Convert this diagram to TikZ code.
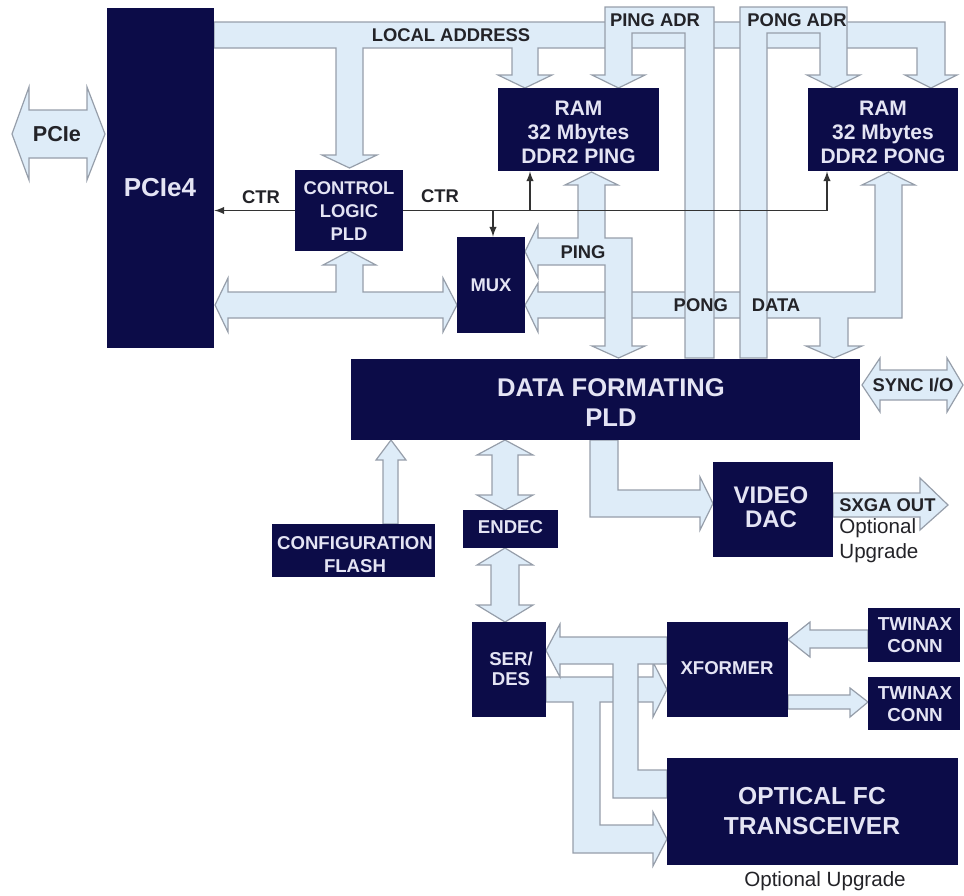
\documentclass[tikz,border=0pt]{standalone}
\usepackage{fontspec}
\setmainfont{Liberation Sans}
\usetikzlibrary{fit}
\definecolor{navy}{RGB}{12,12,72}
\definecolor{busblue}{RGB}{222,236,248}
\definecolor{busline}{RGB}{150,158,170}
\definecolor{boxtext}{RGB}{228,228,244}
\definecolor{lbltext}{RGB}{35,35,40}
\newcommand{\bfs}[2]{\fontsize{#1}{#2}\selectfont\bfseries}

\begin{document}
\begin{tikzpicture}[x=0.5pt, y=-0.5pt,
    blk/.style={fill=navy, inner sep=0pt},
    txt/.style={text=boxtext, inner sep=0pt, align=center},
    bus/.style={fill=busblue, draw=busline, line width=0.6pt},
    lbl/.style={text=lbltext, inner sep=0pt, font=\bfs{9.2}{11}},
    ctr/.style={draw=black!80, line width=0.7pt, -latex}]
  \useasboundingbox (0,0) rectangle (964,895);
  % buses
  \draw[bus] (214,22) -- (945,22) -- (945,75) -- (957,75) -- (931,88) -- (905,75) -- (917,75) -- (917,48)
    -- (538,48) -- (538,75) -- (552,75) -- (525,88) -- (498,75) -- (512,75) -- (512,48)
    -- (363,48) -- (363,155) -- (377,155) -- (349.5,168) -- (322,155) -- (336,155) -- (336,48) -- (214,48) -- cycle;
  \draw[bus] (215,305) -- (228,278) -- (228,292) -- (336,292) -- (336,265) -- (323,265) -- (349.5,251)
    -- (376,265) -- (363,265) -- (363,292) -- (443,292) -- (443,278) -- (457,305) -- (443,332)
    -- (443,318) -- (228,318) -- (228,332) -- cycle;
  \draw[bus] (525,305) -- (538,283) -- (538,292) -- (875,292) -- (875,185) -- (862,185) -- (888.5,172)
    -- (915,185) -- (902,185) -- (902,318) -- (848,318) -- (848,346) -- (862,346) -- (834,358)
    -- (806,346) -- (820,346) -- (820,318) -- (538,318) -- (538,332) -- cycle;
  \draw[bus] (525,251.5) -- (538,225) -- (538,238) -- (578,238) -- (578,185) -- (565,185) -- (591.5,172)
    -- (618,185) -- (605,185) -- (605,238) -- (632,238) -- (632,346) -- (645,346) -- (618.5,358)
    -- (592,346) -- (605,346) -- (605,265) -- (538,265) -- (538,278) -- cycle;
  \draw[bus] (685,358) -- (685,33) -- (632,33) -- (632,75) -- (645,75) -- (618.5,88) -- (592,75)
    -- (605,75) -- (605,7) -- (714,7) -- (714,358) -- cycle;
  \draw[bus] (740,358) -- (740,7) -- (847,7) -- (847,75) -- (860,75) -- (833.5,88) -- (807,75)
    -- (820,75) -- (820,33) -- (767,33) -- (767,358) -- cycle;
  \draw[bus] (12,134) -- (29,87) -- (29,110) -- (87,110) -- (87,87) -- (105,134) -- (87,180)
    -- (87,158) -- (29,158) -- (29,180) -- cycle;
  \draw[bus] (862,385) -- (880,358) -- (880,370) -- (947,370) -- (947,358) -- (963,385) -- (947,412)
    -- (947,400) -- (880,400) -- (880,412) -- cycle;
  \draw[bus] (590,440) -- (618,440) -- (618,490) -- (700,490) -- (700,477) -- (713,503.5) -- (700,530)
    -- (700,517) -- (590,517) -- cycle;
  \draw[bus] (833,493) -- (920,493) -- (920,478) -- (948,505) -- (920,530) -- (920,517) -- (833,517) -- cycle;
  \draw[bus] (505,440) -- (533,455) -- (518,455) -- (518,495) -- (533,495) -- (505,510) -- (477,495)
    -- (492,495) -- (492,455) -- (477,455) -- cycle;
  \draw[bus] (505,548) -- (533,565) -- (519,565) -- (519,605) -- (533,605) -- (505,622) -- (477,605)
    -- (491,605) -- (491,565) -- (477,565) -- cycle;
  \draw[bus] (391,440) -- (406,460) -- (398,460) -- (398,524) -- (383,524) -- (383,460) -- (376,460) -- cycle;
  \draw[bus] (546,677) -- (653,677) -- (653,662) -- (667,689.5) -- (653,717) -- (653,702) -- (600,702)
    -- (600,825) -- (653,825) -- (653,812) -- (667,839) -- (653,866) -- (653,853) -- (573,853)
    -- (573,702) -- (546,702) -- cycle;
  \draw[bus] (546,650.5) -- (560,624) -- (560,637) -- (667,637) -- (667,664) -- (638,664) -- (638,770)
    -- (667,770) -- (667,798) -- (613,798) -- (613,664) -- (560,664) -- (560,677) -- cycle;
  \draw[bus] (868,630) -- (810,630) -- (810,622) -- (788,639.5) -- (810,657) -- (810,648) -- (868,648) -- cycle;
  \draw[bus] (788,695) -- (850,695) -- (850,688) -- (868,702) -- (850,717) -- (850,709) -- (788,709) -- cycle;
  % blocks
  \node (pcie4) [blk, fit={(107,8) (214,348)}] {};
  \node (ctl) [blk, fit={(295,170) (403,251)}] {};
  \node (mux) [blk, fit={(457,237) (525,333)}] {};
  \node (ramping) [blk, fit={(498,88) (659,171)}] {};
  \node (rampong) [blk, fit={(808,88) (958,171)}] {};
  \node (dfp) [blk, fit={(351,359) (860,440)}] {};
  \node (flash) [blk, fit={(272,524) (435,577)}] {};
  \node (endec) [blk, fit={(463,510) (558,548)}] {};
  \node (vdac) [blk, fit={(713,462) (833,557)}] {};
  \node (serdes) [blk, fit={(472,622) (546,717)}] {};
  \node (xformer) [blk, fit={(667,622) (788,717)}] {};
  \node (twin1) [blk, fit={(868,608) (960,662)}] {};
  \node (twin2) [blk, fit={(868,677) (960,730)}] {};
  \node (optfc) [blk, fit={(667,758) (958,865)}] {};
  \node (pcie4t) [txt, font=\bfs{13}{15}] at (160,188) {PCIe4};
  \node (ctlt) [txt, font=\bfs{9.2}{11.3}] at (349,211) {CONTROL\\LOGIC\\PLD};
  \node (muxt) [txt, font=\bfs{9.2}{11}] at (491,285) {MUX};
  \node (rampingt) [txt, font=\bfs{10.5}{12}] at (578.5,132) {RAM\\32 Mbytes\\DDR2 PING};
  \node (rampongt) [txt, font=\bfs{10.5}{12}] at (883,132) {RAM\\32 Mbytes\\DDR2 PONG};
  \node (dfpt) [txt, font=\bfs{12.8}{15}] at (611,402.5) {DATA FORMATING\\PLD};
  \node (flasht) [txt, font=\bfs{9.3}{11.5}] at (355,555) {CONFIGURATION\\FLASH};
  \node (endect) [txt, font=\bfs{9.3}{11}] at (510.5,527) {ENDEC};
  \node (vdact) [txt, font=\bfs{12}{12}] at (771,507) {VIDEO\\DAC};
  \node (serdest) [txt, font=\bfs{9.3}{10}] at (511,668.5) {SER/\\DES};
  \node (xformert) [txt, font=\bfs{9.3}{11}] at (727,668) {XFORMER};
  \node (twin1t) [txt, font=\bfs{9.4}{11}] at (915,635.5) {TWINAX\\CONN};
  \node (twin2t) [txt, font=\bfs{9.4}{11}] at (915,704.5) {TWINAX\\CONN};
  \node (optfct) [txt, font=\bfs{12.3}{15}] at (812,811.5) {OPTICAL FC\\TRANSCEIVER};
  % labels
  \node (pciel) [lbl, font=\bfs{10.8}{12}] at (57,134) {PCIe};
  \node (laddr) [lbl] at (451,35) {LOCAL ADDRESS};
  \node (pingadr) [lbl] at (655,20) {PING ADR};
  \node (pongadr) [lbl] at (797,20) {PONG ADR};
  \node (ctrl) [lbl] at (261,197) {CTR};
  \node (ctrr) [lbl] at (440,196) {CTR};
  \node (pingl) [lbl] at (583,252) {PING};
  \node (pongd) [lbl] at (737,305) {PONG\hspace{12pt}DATA};
  \node (syncio) [lbl] at (913,385) {SYNC I/O};
  \node (sxga) [lbl, anchor=west] at (839,505) {SXGA OUT};
  \node (optv) [anchor=west, align=left, inner sep=0pt, text=lbltext, font=\fontsize{10.3}{12.5}\selectfont] at (839,541) {Optional\\Upgrade};
  \node (optf) [inner sep=0pt, text=lbltext, font=\fontsize{10.3}{12.5}\selectfont] at (825,881) {Optional Upgrade};
  % control lines
  \coordinate (ctrM) at (493,210.5);
  \coordinate (ctrP) at (530,210.5);
  \coordinate (ctrR) at (827,210.5);
  \draw[ctr] (ctl.west) -- (ctl.west -| pcie4.east);
  \draw[ctr] (ctl.east) -- (ctrR) -- (ctrR |- rampong.south);
  \draw[ctr] (ctrP) -- (ctrP |- ramping.south);
  \draw[ctr] (ctrM) -- (ctrM |- mux.north);
\end{tikzpicture}
\end{document}
